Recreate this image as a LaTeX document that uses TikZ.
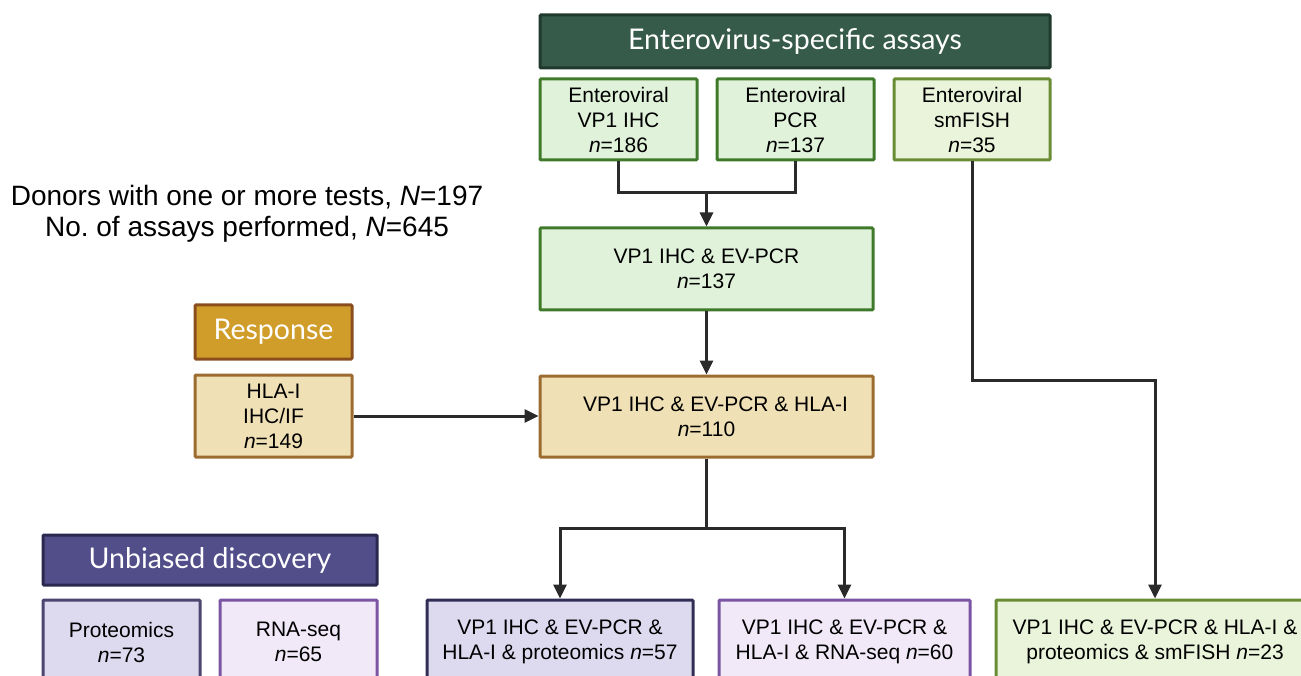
\documentclass[tikz,border=0pt]{standalone}
\usepackage{fontspec}
\setmainfont{Liberation Sans}
\newfontfamily\hdrfont{Lato}
\usetikzlibrary{arrows.meta}
\frenchspacing
\definecolor{hdrgreen}{HTML}{365B4B}
\definecolor{hdrgreenB}{HTML}{1F392D}
\definecolor{lgreen}{HTML}{E0F2DA}
\definecolor{lgreenB}{HTML}{3F7A2A}
\definecolor{lolive}{HTML}{EAF4DA}
\definecolor{loliveB}{HTML}{6A8C35}
\definecolor{tan}{HTML}{F0E0B5}
\definecolor{tanB}{HTML}{9C6B30}
\definecolor{gold}{HTML}{D19D2A}
\definecolor{goldB}{HTML}{8A4E1E}
\definecolor{hdrpurple}{HTML}{524E8A}
\definecolor{hdrpurpleB}{HTML}{2B2850}
\definecolor{lpurple}{HTML}{DDDAF0}
\definecolor{lpurpleB}{HTML}{4B4570}
\definecolor{lviolet}{HTML}{F1E9F8}
\definecolor{lvioletB}{HTML}{7B55A3}
\definecolor{linec}{HTML}{2A2A2A}
\tikzset{
  box/.style={draw, line width=3pt, rounded corners=1pt, align=center, inner sep=0pt,
    font=\fontsize{21}{25}\selectfont, text=black},
  hdr/.style={draw, line width=3pt, rounded corners=1pt, align=center, inner sep=0pt,
    font=\hdrfont\fontsize{28.5}{33}\selectfont, text=white},
  conn/.style={draw=linec, line width=3pt},
  arr/.style={conn, -{Triangle[width=13pt,length=14pt]}},
}
\begin{document}
\begin{tikzpicture}[x=1pt,y=-1pt]
\useasboundingbox (0,0) rectangle (1301,676);
\clip (0,0) rectangle (1301,676);
% headers
\node[hdr, fill=hdrgreen, draw=hdrgreenB, minimum width=510pt, minimum height=53pt] (hdrev) at (795,41.5) {Enterovirus-specific assays};
\node[hdr, fill=gold, draw=goldB, minimum width=157pt, minimum height=54pt] (resp) at (273.5,332) {Response};
\node[hdr, fill=hdrpurple, draw=hdrpurpleB, minimum width=334pt, minimum height=50pt] (ub) at (210,560) {Unbiased discovery};
% top row
\node[box, fill=lgreen, draw=lgreenB, minimum width=157pt, minimum height=81pt] (vp1) at (618.5,119.5) {Enteroviral\\VP1 IHC\\\textit{n}=186};
\node[box, fill=lgreen, draw=lgreenB, minimum width=157pt, minimum height=81pt] (pcr) at (795.5,119.5) {Enteroviral\\PCR\\\textit{n}=137};
\node[box, fill=lolive, draw=loliveB, minimum width=156pt, minimum height=81pt] (fish) at (972,119.5) {Enteroviral\\smFISH\\\textit{n}=35};
% middle
\node[box, fill=lgreen, draw=lgreenB, minimum width=333pt, minimum height=82pt] (ev) at (706.5,269) {VP1 IHC \& EV-PCR\\\textit{n}=137};
\node[box, fill=tan, draw=tanB, minimum width=333pt, minimum height=81pt] (mid) at (706.5,416.5) {\hspace*{18pt}VP1 IHC \& EV-PCR \& HLA-I\\\textit{n}=110};
\node[box, fill=tan, draw=tanB, minimum width=157pt, minimum height=82pt] (hla) at (273.5,416) {HLA-I\\IHC/IF\\\textit{n}=149};
% donors text
\node[align=center, inner sep=0pt, font=\fontsize{28}{31}\selectfont] (donors) at (247,213.5) {Donors with one or more tests, \textit{N}=197\\No. of assays performed, \textit{N}=645};
% bottom row
\node[box, fill=lpurple, draw=lpurpleB, minimum width=157pt, minimum height=84pt] (prot) at (121.5,642) {Proteomics\\\textit{n}=73};
\node[box, fill=lviolet, draw=lvioletB, minimum width=157pt, minimum height=84pt] (rna) at (298.5,642) {RNA-seq\\\textit{n}=65};
\node[box, fill=lpurple, draw=hdrpurpleB!80!lpurpleB, minimum width=266pt, minimum height=84pt] (b1) at (560,642) {VP1 IHC \& EV-PCR \&\\HLA-I \& proteomics \textit{n}=57};
\node[box, fill=lviolet, draw=lvioletB, minimum width=251pt, minimum height=84pt] (b2) at (844.5,642) {VP1 IHC \& EV-PCR \&\\HLA-I \& RNA-seq \textit{n}=60};
\node[box, fill=lolive, draw=loliveB, minimum width=318pt, minimum height=84pt] (b3) at (1155,642) {VP1 IHC \& EV-PCR \& HLA-I \&\\proteomics \& smFISH \textit{n}=23};
% connectors
\coordinate (j1) at (0,193);
\coordinate (j2) at (0,528);
\coordinate (j3) at (0,380);
\draw[conn] (vp1.south) |- (ev.north |- j1) -| (pcr.south);
\draw[arr] (ev.north |- j1) -- (ev.north);
\draw[arr] (ev.south) -- (mid.north);
\draw[arr] (hla.east) -- (mid.west |- hla.east);
\draw[conn] (mid.south) -- (mid.south |- j2);
\draw[arr] (mid.south |- j2) -| (b1.north);
\draw[arr] (mid.south |- j2) -| (b2.north);
\draw[arr] (fish.south) |- (b3.north |- j3) -- (b3.north);
\end{tikzpicture}
\end{document}
